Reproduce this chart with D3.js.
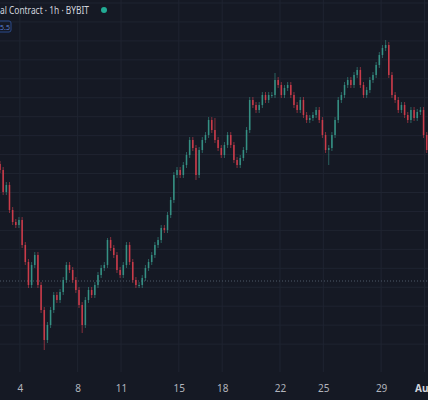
<!DOCTYPE html>
<html>
<head>
<meta charset="utf-8">
<script src="https://cdn.jsdelivr.net/npm/d3@7"></script>
<style>
  body { margin: 0; background: #151924; }
  svg { display: block; font-family: "Noto Sans", sans-serif; }
</style>
</head>
<body>
<div id="chart"></div>
<script>
// closes, one per 5h15 candle
var closes = [430,408,415,390,378,375,380,355,338,315,335,345,315,290,260,275,290,305,300,308,320,335,330,320,310,295,275,300,310,305,315,325,332,335,360,352,345,330,325,335,355,338,320,315,
  315,322,332,338,345,355,360,372,370,385,400,425,430,425,435,445,460,452,425,450,460,465,480,470,460,452,445,455,465,455,440,435,442,450,470,500,495,490,495,505,500,
  505,505,520,515,505,512,515,505,495,490,500,485,480,482,485,490,480,465,450,452,465,480,500,505,515,520,515,525,530,515,505,510,520,525,535,545,552,555,525,505,500,490,495,485,480,490,482,488,490,465,450,445];
var spikes = [{i: 14, lo: 250}, {i: 26, lo: 267}, {i: 34, hi: 362}, {i: 62, lo: 420}, {i: 68, hi: 482}, {i: 87, hi: 527}, {i: 104, lo: 435}, {i: 122, hi: 560}];
var tickDates = ["2024-07-04", "2024-07-08", "2024-07-11", "2024-07-15", "2024-07-18", "2024-07-22", "2024-07-25", "2024-07-29", "2024-08-01"];
var tickLabels = ["4", "8", "11", "15", "18", "22", "25", "29", "Aug"];
var refPrice = 319;

var width = 428, height = 400;
var start = new Date(2024, 6, 2, 15, 0);
var stepMs = 315 * 60 * 1000;

var svg = d3.select("#chart").append("svg")
  .attr("width", width)
  .attr("height", height);

svg.append("rect").attr("width", width).attr("height", height).attr("fill", "#151924");

var x = d3.scaleTime()
  .domain([start, new Date(start.getTime() + 428 / 14.45 * 864e5)])
  .range([0, width]);
var y = d3.scaleLinear().domain([600, 200]).range([0, 400]);

// grid
var hLines = d3.range(3, 362, 18.95);
svg.append("g").selectAll("line").data(hLines).join("line")
  .attr("x1", 0).attr("x2", width)
  .attr("y1", d => d).attr("y2", d => d)
  .attr("stroke", "#1f2431").attr("stroke-width", 1);

var ticks = tickDates.map(d => d3.timeParse("%Y-%m-%d")(d));
svg.append("g").selectAll("line").data(ticks).join("line")
  .attr("x1", d => x(d)).attr("x2", d => x(d))
  .attr("y1", 0).attr("y2", 372)
  .attr("stroke", "#1f2431").attr("stroke-width", 1);

svg.append("line")
  .attr("x1", 0).attr("x2", width)
  .attr("y1", y(refPrice)).attr("y2", y(refPrice))
  .attr("stroke", "#4f5a68").attr("stroke-dasharray", "1,2");

// candles
var candles = closes.map(function(c, i) {
  var o = i ? closes[i - 1] : c + 6;
  var hi = Math.max(o, c) + 3, lo = Math.min(o, c) - 3;
  spikes.filter(s => s.i === i).forEach(function(s) {
    if (s.hi) hi = s.hi;
    if (s.lo) lo = s.lo;
  });
  return {t: new Date(start.getTime() + i * stepMs), o: o, c: c, hi: hi, lo: lo};
});

var up = "#3a9e8f", down = "#e0404f";
var g = svg.append("g");
g.selectAll("line").data(candles).join("line")
  .attr("x1", d => x(d.t)).attr("x2", d => x(d.t))
  .attr("y1", d => y(d.hi)).attr("y2", d => y(d.lo))
  .attr("stroke", d => d.c >= d.o ? up : down)
  .attr("stroke-opacity", 0.7).attr("stroke-width", 0.8);
g.selectAll("rect").data(candles).join("rect")
  .attr("x", d => x(d.t) - 0.8)
  .attr("width", 1.6)
  .attr("y", d => y(Math.max(d.o, d.c)))
  .attr("height", d => Math.max(1, Math.abs(y(d.o) - y(d.c))))
  .attr("fill", d => d.c >= d.o ? up : down)
  .attr("fill-opacity", 0.8);

// time axis
var axis = d3.axisBottom(x).tickValues(ticks).tickFormat((d, i) => tickLabels[i]).tickSize(0);
var ax = svg.append("g").attr("transform", "translate(0,382)").call(axis);
ax.select(".domain").remove();
ax.selectAll("text")
  .attr("fill", (d, i) => i === 8 ? "#d1d4dc" : "#b2b5be")
  .attr("font-weight", (d, i) => i === 8 ? "bold" : "normal")
  .attr("font-size", 10)
  .attr("font-family", "'Noto Sans', sans-serif");

// header
svg.append("text").attr("x", 0).attr("y", 14)
  .attr("fill", "#d1d4dc").attr("font-size", 11)
  .attr("textLength", 89).attr("lengthAdjust", "spacingAndGlyphs")
  .text("al Contract · 1h · BYBIT");
svg.append("circle").attr("cx", 104).attr("cy", 10).attr("r", 3).attr("fill", "#22ab94");
svg.append("rect").attr("x", -4).attr("y", 21).attr("width", 15).attr("height", 11).attr("rx", 2)
  .attr("fill", "none").attr("stroke", "#2a4a8a");
svg.append("text").attr("x", 0).attr("y", 29.5).attr("fill", "#5a7fd0").attr("font-size", 7).text("5.5");
</script>
</body>
</html>
